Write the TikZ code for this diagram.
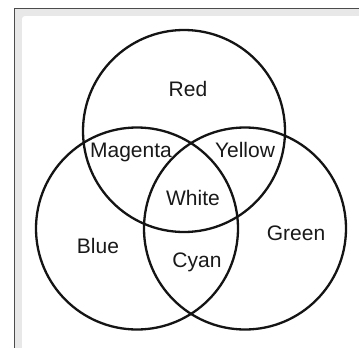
\documentclass[tikz,border=0pt]{standalone}
\usepackage{fontspec}
\setmainfont{Liberation Sans}
\begin{document}
\begin{tikzpicture}[x=1pt,y=-1pt,
  ring/.style={circle,draw=black!92,line width=2.3pt,minimum size=202pt,inner sep=0pt},
  lbl/.style={anchor=base,inner sep=0pt,font=\fontsize{21}{25}\selectfont,text=black!90}]
\useasboundingbox (0,0) rectangle (359,348);
\clip (0,0) rectangle (359,348);
\fill[white] (0,0) rectangle (359,348);
\fill[black!9] (14,8) rectangle (370,360);
\fill[white,rounded corners=3pt] (22,16) rectangle (380,370);
\draw[black!70,line width=1pt] (14,360) -- (14,8) -- (370,8);
\node[ring] (red) at (184,131) {};
\node[ring] (blue) at (137,228.5) {};
\node[ring] (green) at (245,228.5) {};
\node[lbl] (tred) at (188,96) {Red};
\node[lbl] (tmagenta) at (131,157) {Magenta};
\node[lbl] (tyellow) at (245,157) {Yellow};
\node[lbl] (twhite) at (193,205) {White};
\node[lbl] (tblue) at (98,253) {Blue};
\node[lbl] (tgreen) at (296,240) {Green};
\node[lbl] (tcyan) at (197,267.5) {Cyan};
\end{tikzpicture}
\end{document}
